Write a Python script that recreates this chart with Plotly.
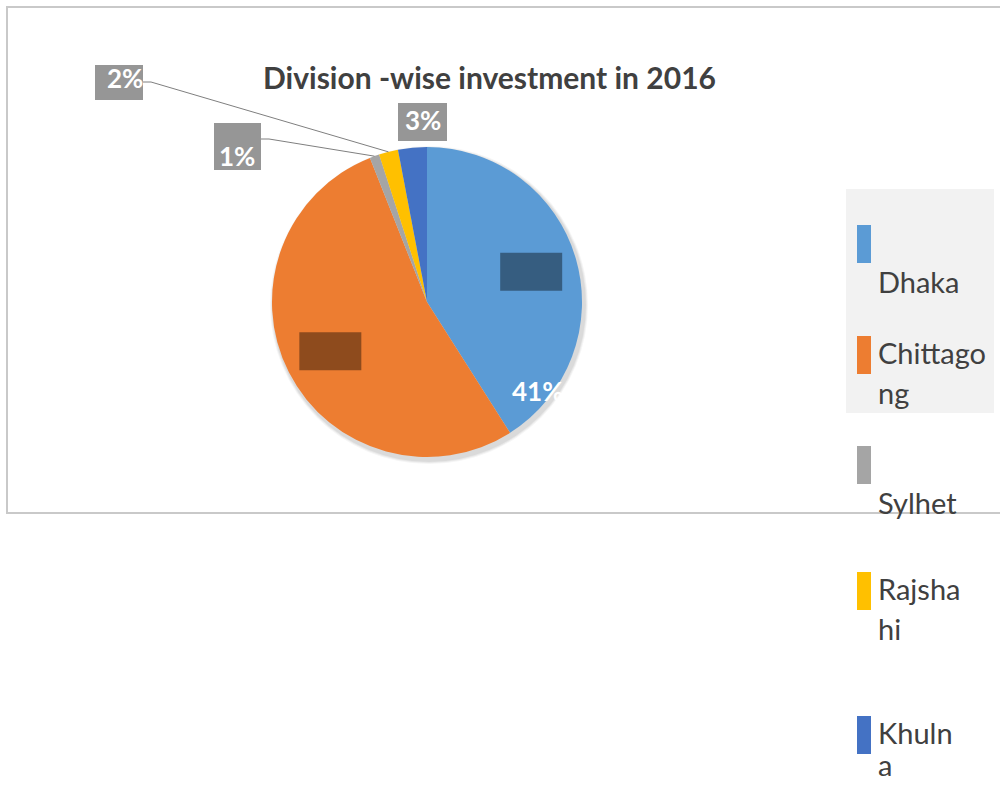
import math
import plotly.graph_objects as go

# ---- data ----
categories = ["Dhaka", "Chittagong", "Sylhet", "Rajshahi", "Khulna"]
shares = [41, 53, 1, 2, 3]
colors = ["#5B9BD5", "#ED7D31", "#A5A5A5", "#FFC000", "#4472C4"]
legend_lines = [["", "Dhaka"], ["Chittago", "ng"], ["", "Sylhet"], ["Rajsha", "hi"], ["Khuln", "a"]]
title_text = "Division -wise investment in 2016"

# ---- layout helpers (pixel -> paper) ----
W, H = 1000, 786
def px(x): return x / W
def py(y): return 1 - y / H

CX, CY, R = 427, 302, 155
total = sum(shares)

def slice_point(i, rf):
    start = sum(shares[:i]) / total
    mid = start + shares[i] / total / 2
    a = 2 * math.pi * mid
    return CX + rf * R * math.sin(a), CY - rf * R * math.cos(a)

def pct(i):
    return f"{round(100 * shares[i] / total)}%"

fig = go.Figure(go.Pie(
    labels=categories, values=shares, sort=False, direction="clockwise", rotation=0,
    marker=dict(colors=colors, line=dict(width=0)), textinfo="none",
    hoverinfo="label+percent", showlegend=False,
    domain=dict(x=[px(CX - R), px(CX + R)], y=[py(CY + R), py(CY - R)]),
))

shapes = []
ann = []
FONT = "Lato"

# chart frame
shapes.append(dict(type="rect", xref="paper", yref="paper", x0=px(7), x1=px(1010), y0=py(513), y1=py(7),
                   line=dict(color="#C9C9C9", width=2), layer="below"))
# legend background
shapes.append(dict(type="rect", xref="paper", yref="paper", x0=px(846), x1=px(994), y0=py(413), y1=py(189),
                   fillcolor="#F2F2F2", line=dict(width=0), layer="below"))
# soft shadow behind pie
for k, a in enumerate([0.04, 0.05, 0.06]):
    rr = R + 4 - k
    shapes.append(dict(type="circle", xref="paper", yref="paper",
                       x0=px(CX + 2 - rr), x1=px(CX + 2 + rr), y0=py(CY + 3 + rr), y1=py(CY + 3 - rr),
                       fillcolor=f"rgba(0,0,0,{a})", line=dict(width=0), layer="below"))

# obscured inside labels (Dhaka, Chittagong)
for i in (0, 1):
    x, y = slice_point(i, 0.7)
    shapes.append(dict(type="rect", xref="paper", yref="paper", x0=px(x - 31), x1=px(x + 31),
                       y0=py(y + 19), y1=py(y - 19), fillcolor="rgba(0,0,0,0.4)",
                       line=dict(width=0), layer="above"))

# outside labels: (index, box px, text center px, leader start px)
outside = [
    (3, (95, 65, 143, 100), (125, 78), (143, 82)),
    (2, (214, 123, 261, 170), (237, 156), (261, 139)),
    (4, (398, 103, 447, 141), (423, 120), None),
]
for i, (bx0, by0, bx1, by1), (tx, ty), lead in outside:
    shapes.append(dict(type="rect", xref="paper", yref="paper", x0=px(bx0), x1=px(bx1),
                       y0=py(by1), y1=py(by0), fillcolor="#969696", line=dict(width=0), layer="above"))
    ann.append(dict(xref="paper", yref="paper", x=px(tx), y=py(ty), text=f"<b>{pct(i)}</b>", showarrow=False,
                    font=dict(family=FONT, size=26, color="white"), xanchor="center", yanchor="middle"))
    if lead:
        ex, ey = slice_point(i, 1.0)
        path = f"M {px(lead[0])},{py(lead[1])} L {px(lead[0] + 8)},{py(lead[1])} L {px(ex)},{py(ey)}"
        shapes.append(dict(type="path", xref="paper", yref="paper", path=path,
                           line=dict(color="#7F7F7F", width=1), layer="above"))

# visible inside label
ann.append(dict(xref="paper", yref="paper", x=px(537), y=py(391), text=f"<b>{pct(0)}</b>", showarrow=False,
                font=dict(family=FONT, size=26, color="white"), xanchor="center", yanchor="middle"))

# title
ann.append(dict(xref="paper", yref="paper", x=px(489), y=py(77), text=f"<b>{title_text}</b>", showarrow=False,
                font=dict(family=FONT, size=30, color="#404040"), xanchor="center", yanchor="middle"))

# custom legend
bar_tops = [225, 336, 446, 572, 716]
for i, top in enumerate(bar_tops):
    shapes.append(dict(type="rect", xref="paper", yref="paper", x0=px(857), x1=px(871),
                       y0=py(top + 38), y1=py(top), fillcolor=colors[i], line=dict(width=0), layer="above"))
    pitch = 32 if i == len(bar_tops) - 1 else 40
    for j, line in enumerate(legend_lines[i]):
        if not line:
            continue
        base = top + 26 + pitch * j
        ann.append(dict(xref="paper", yref="paper", x=px(876), y=py(base - 10), text=line, showarrow=False,
                        font=dict(family=FONT, size=29, color="#404040"), xanchor="left", yanchor="middle"))

fig.update_layout(
    width=W, height=H, margin=dict(l=0, r=0, t=0, b=0),
    paper_bgcolor="white", plot_bgcolor="white",
    shapes=shapes, annotations=ann, showlegend=False,
)

fig.write_html("out.html", config={"displayModeBar": False},
               post_script="document.body.style.margin='0';")
